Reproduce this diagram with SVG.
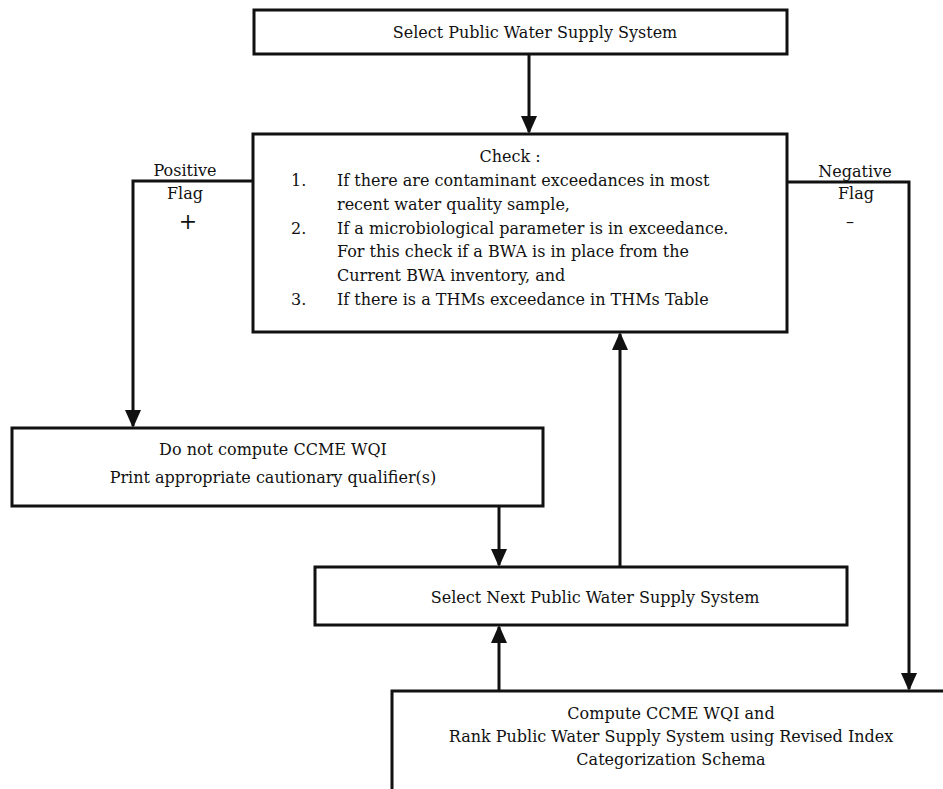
<svg xmlns="http://www.w3.org/2000/svg" width="943" height="789" viewBox="0 0 943 789">
<style>
.box{fill:#fff;stroke:#111;stroke-width:3}
.ln{fill:none;stroke:#111;stroke-width:3}
text{font-family:"DejaVu Serif","Liberation Serif",serif;font-size:16px;fill:#111}
.c{text-anchor:middle}
</style>
<defs>
<marker id="arr" markerUnits="userSpaceOnUse" viewBox="0 0 18 16" markerWidth="18" markerHeight="16" refX="16" refY="8" orient="auto">
<path d="M0,0 L18,8 L0,16 z" fill="#111"/>
</marker>
</defs>
<rect width="943" height="789" fill="#fff"/>
<g id="connectors">
<path class="ln" d="M529,54 V132" marker-end="url(#arr)"/>
<path class="ln" d="M253,181 H133 V426" marker-end="url(#arr)"/>
<path class="ln" d="M787,182 H909 V689" marker-end="url(#arr)"/>
<path class="ln" d="M499,506 V565" marker-end="url(#arr)"/>
<path class="ln" d="M620,567 V334" marker-end="url(#arr)"/>
<path class="ln" d="M499,691 V627" marker-end="url(#arr)"/>
<text class="c" x="185" y="176">Positive</text>
<text class="c" x="185" y="199">Flag</text>
<text class="c" x="188" y="229" style="font-size:22px">+</text>
<text class="c" x="855" y="177">Negative</text>
<text class="c" x="856" y="199">Flag</text>
<text class="c" x="850" y="227">–</text>
</g>
<g id="select">
<rect class="box" x="254" y="10" width="533" height="44"/>
<text class="c" x="535" y="38">Select Public Water Supply System</text>
</g>
<g id="check">
<rect class="box" x="253" y="134" width="534" height="198"/>
<text class="c" x="510" y="162">Check :</text>
<text x="291" y="186">1.</text>
<text x="337" y="186">If there are contaminant exceedances in most</text>
<text x="337" y="210">recent water quality sample,</text>
<text x="291" y="234">2.</text>
<text x="337" y="234">If a microbiological parameter is in exceedance.</text>
<text x="337" y="257">For this check if a BWA is in place from the</text>
<text x="337" y="281">Current BWA inventory, and</text>
<text x="291" y="305">3.</text>
<text x="337" y="305">If there is a THMs exceedance in THMs Table</text>
</g>
<g id="donot">
<rect class="box" x="12" y="428" width="531" height="78"/>
<text class="c" x="273" y="455">Do not compute CCME WQI</text>
<text class="c" x="273" y="483">Print appropriate cautionary qualifier(s)</text>
</g>
<g id="next">
<rect class="box" x="315" y="567" width="532" height="58"/>
<text class="c" x="595" y="603">Select Next Public Water Supply System</text>
</g>
<g id="compute">
<path class="box" d="M392,800 V691 H950"/>
<text class="c" x="671" y="719">Compute CCME WQI and</text>
<text class="c" x="671" y="742">Rank Public Water Supply System using Revised Index</text>
<text class="c" x="671" y="765">Categorization Schema</text>
</g>
</svg>
